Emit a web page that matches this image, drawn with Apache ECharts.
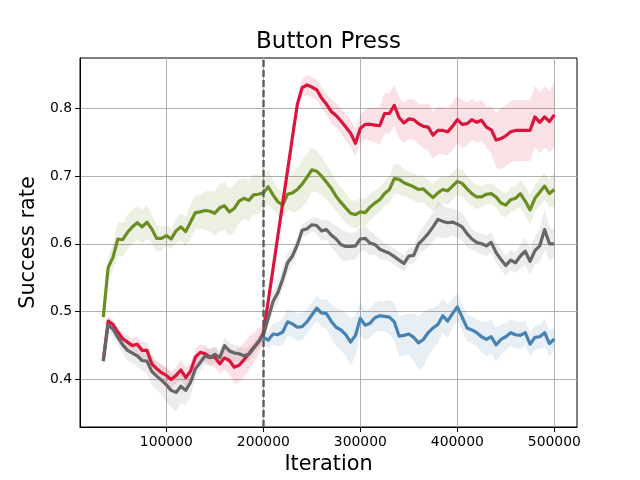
<!DOCTYPE html>
<html>
<head>
<meta charset="utf-8">
<title>Button Press</title>
<script src="https://cdn.jsdelivr.net/npm/echarts@6/dist/echarts.min.js"></script>
<style>
  html, body { margin: 0; padding: 0; background: #fff; }
  #main { width: 640px; height: 480px; }
</style>
</head>
<body>
<div id="main"></div>
<script>
// iterations: one point every 5000 steps, 35000 .. 500000
const ITER_START = 35000;
const ITER_STEP = 5000;
const ITER_COUNT = 94;
const iterations = [];
for (let i = 0; i < ITER_COUNT; i++) iterations.push(ITER_START + i * ITER_STEP);

// blue run only starts at the switch point
const switchIter = 200000;

const xTicks = [100000, 200000, 300000, 400000, 500000];
const yTicks = [0.4, 0.5, 0.6, 0.7, 0.8];

// mean success rate per run
const greenMean = [
  0.492, 0.565, 0.58, 0.607, 0.606, 0.617, 0.625, 0.631, 0.625, 0.632,
  0.622, 0.608, 0.608, 0.612, 0.607, 0.619, 0.625, 0.618, 0.632, 0.646,
  0.647, 0.649, 0.648, 0.645, 0.653, 0.656, 0.647, 0.652, 0.663, 0.667,
  0.664, 0.672, 0.673, 0.675, 0.684, 0.672, 0.662, 0.657, 0.673, 0.675,
  0.680, 0.688, 0.698, 0.709, 0.707, 0.700, 0.691, 0.682, 0.670, 0.661,
  0.653, 0.645, 0.643, 0.647, 0.646, 0.654, 0.660, 0.665, 0.674, 0.680,
  0.696, 0.695, 0.690, 0.687, 0.684, 0.680, 0.681, 0.674, 0.668, 0.675,
  0.680, 0.678, 0.685, 0.692, 0.689, 0.681, 0.674, 0.669, 0.669, 0.673,
  0.674, 0.669, 0.660, 0.657, 0.665, 0.667, 0.674, 0.663, 0.650, 0.667,
  0.676, 0.685, 0.674, 0.680
];
const redMean = [
  0.428, 0.486, 0.481, 0.470, 0.460, 0.455, 0.450, 0.452, 0.443, 0.443,
  0.423, 0.416, 0.410, 0.406, 0.400, 0.406, 0.414, 0.403, 0.412, 0.433,
  0.440, 0.438, 0.433, 0.433, 0.423, 0.432, 0.428, 0.418, 0.421, 0.429,
  0.438, 0.447, 0.455, 0.468, 0.515, 0.563, 0.612, 0.660, 0.708, 0.757,
  0.805, 0.830, 0.834, 0.831, 0.827, 0.815, 0.806, 0.795, 0.789, 0.781,
  0.772, 0.763, 0.748, 0.770, 0.776, 0.776, 0.775, 0.774, 0.792, 0.792,
  0.804, 0.786, 0.778, 0.784, 0.783, 0.777, 0.773, 0.772, 0.760, 0.767,
  0.767, 0.765, 0.773, 0.783, 0.776, 0.777, 0.783, 0.779, 0.782, 0.772,
  0.768, 0.753, 0.755, 0.759, 0.765, 0.767, 0.767, 0.767, 0.767, 0.787,
  0.779, 0.787, 0.780, 0.790
];
const grayMean = [
  0.427, 0.481, 0.474, 0.462, 0.451, 0.443, 0.439, 0.435, 0.428, 0.427,
  0.412, 0.405, 0.399, 0.392, 0.384, 0.381, 0.390, 0.384, 0.396, 0.416,
  0.425, 0.435, 0.432, 0.437, 0.432, 0.450, 0.442, 0.439, 0.438, 0.435,
  0.437, 0.446, 0.456, 0.465, 0.490, 0.515, 0.528, 0.548, 0.572, 0.582,
  0.598, 0.620, 0.622, 0.628, 0.627, 0.619, 0.621, 0.613, 0.607, 0.599,
  0.596, 0.596, 0.597, 0.607, 0.608, 0.601, 0.599, 0.592, 0.589, 0.586,
  0.581, 0.576, 0.571, 0.582, 0.583, 0.600, 0.607, 0.615, 0.625, 0.636,
  0.633, 0.631, 0.632, 0.629, 0.625, 0.615, 0.607, 0.602, 0.600, 0.597,
  0.602, 0.587, 0.577, 0.568, 0.576, 0.572, 0.582, 0.589, 0.574, 0.590,
  0.597, 0.621, 0.600, 0.600
];
// from 200000 on
const blueMean = [
  0.462, 0.458, 0.467, 0.466, 0.470, 0.485, 0.482, 0.477, 0.478, 0.485,
  0.495, 0.505, 0.498, 0.497, 0.486, 0.477, 0.473, 0.466, 0.455, 0.465,
  0.490, 0.480, 0.483, 0.491, 0.494, 0.493, 0.492, 0.485, 0.464, 0.465,
  0.467, 0.462, 0.454, 0.459, 0.469, 0.476, 0.481, 0.494, 0.486, 0.497,
  0.507, 0.492, 0.476, 0.473, 0.469, 0.463, 0.459, 0.463, 0.451, 0.459,
  0.463, 0.469, 0.466, 0.465, 0.469, 0.452, 0.462, 0.463, 0.469, 0.453,
  0.460
];

// half width of the shaded band (std) per run
const greenStd = [
  0.01, 0.015, 0.02, 0.025, 0.025, 0.025, 0.025, 0.025, 0.025, 0.025,
  0.02, 0.02, 0.018, 0.015, 0.015, 0.018, 0.02, 0.022, 0.025, 0.025,
  0.025, 0.028, 0.03, 0.032, 0.035, 0.035, 0.035, 0.035, 0.033, 0.03,
  0.03, 0.03, 0.028, 0.025, 0.025, 0.022, 0.02, 0.02, 0.022, 0.028,
  0.032, 0.035, 0.035, 0.033, 0.03, 0.028, 0.025, 0.025, 0.022, 0.022,
  0.022, 0.02, 0.02, 0.02, 0.02, 0.02, 0.018, 0.018, 0.018, 0.02,
  0.022, 0.022, 0.02, 0.02, 0.02, 0.02, 0.02, 0.02, 0.02, 0.02,
  0.02, 0.02, 0.02, 0.02, 0.02, 0.02, 0.018, 0.018, 0.015, 0.015,
  0.015, 0.015, 0.018, 0.018, 0.018, 0.018, 0.02, 0.022, 0.022, 0.02,
  0.02, 0.02, 0.02, 0.025
];
const redStd = [
  0.005, 0.008, 0.008, 0.008, 0.008, 0.01, 0.01, 0.012, 0.012, 0.012,
  0.012, 0.012, 0.012, 0.012, 0.012, 0.012, 0.015, 0.015, 0.012, 0.012,
  0.012, 0.012, 0.012, 0.015, 0.015, 0.018, 0.02, 0.025, 0.025, 0.025,
  0.025, 0.022, 0.02, 0.015, 0.01, 0.01, 0.01, 0.01, 0.01, 0.012,
  0.012, 0.012, 0.015, 0.015, 0.015, 0.015, 0.015, 0.018, 0.018, 0.018,
  0.02, 0.02, 0.02, 0.02, 0.022, 0.025, 0.025, 0.028, 0.03, 0.03,
  0.03, 0.03, 0.03, 0.03, 0.03, 0.03, 0.032, 0.035, 0.035, 0.035,
  0.035, 0.035, 0.035, 0.035, 0.035, 0.032, 0.03, 0.03, 0.03, 0.03,
  0.035, 0.04, 0.045, 0.045, 0.045, 0.045, 0.045, 0.045, 0.045, 0.045,
  0.045, 0.045, 0.045, 0.048
];
const grayStd = [
  0.008, 0.01, 0.012, 0.012, 0.012, 0.015, 0.015, 0.015, 0.015, 0.018,
  0.02, 0.02, 0.022, 0.025, 0.025, 0.028, 0.025, 0.022, 0.02, 0.015,
  0.012, 0.012, 0.012, 0.012, 0.012, 0.012, 0.012, 0.012, 0.012, 0.01,
  0.01, 0.01, 0.01, 0.01, 0.012, 0.015, 0.015, 0.015, 0.015, 0.012,
  0.01, 0.01, 0.01, 0.01, 0.012, 0.015, 0.015, 0.018, 0.02, 0.022,
  0.022, 0.02, 0.02, 0.018, 0.018, 0.018, 0.015, 0.015, 0.012, 0.012,
  0.012, 0.012, 0.012, 0.012, 0.012, 0.015, 0.018, 0.02, 0.022, 0.025,
  0.025, 0.022, 0.02, 0.02, 0.02, 0.02, 0.015, 0.015, 0.015, 0.015,
  0.015, 0.015, 0.015, 0.015, 0.015, 0.015, 0.018, 0.02, 0.02, 0.02,
  0.025, 0.03, 0.025, 0.02
];
const blueStd = [
  0.01, 0.012, 0.015, 0.018, 0.02, 0.02, 0.02, 0.02, 0.02, 0.018,
  0.018, 0.018, 0.02, 0.022, 0.025, 0.028, 0.03, 0.032, 0.035, 0.03,
  0.025, 0.022, 0.022, 0.022, 0.022, 0.022, 0.025, 0.028, 0.03, 0.03,
  0.03, 0.035, 0.04, 0.04, 0.035, 0.03, 0.028, 0.025, 0.025, 0.022,
  0.02, 0.02, 0.02, 0.02, 0.02, 0.022, 0.025, 0.025, 0.025, 0.022,
  0.02, 0.02, 0.02, 0.02, 0.018, 0.018, 0.018, 0.018, 0.02, 0.02,
  0.015
];

const blueIters = iterations.filter(function (x) { return x >= switchIter; });

/**
 * shaded mean +- std band, drawn as one polygon through the axis scales
 */
function band(xs, mean, std, fill) {
  return {
    type: 'custom',
    silent: true,
    z: 1,
    data: [[xs[0], mean[0]]],
    renderItem: function (params, api) {
      const upper = [];
      const lower = [];
      for (let i = 0; i < xs.length; i++) {
        upper.push(api.coord([xs[i], mean[i] + std[i]]));
        lower.unshift(api.coord([xs[i], mean[i] - std[i]]));
      }
      return {
        type: 'polygon',
        shape: { points: upper.concat(lower) },
        style: { fill: fill, stroke: null }
      };
    }
  };
}

function line(xs, mean, color) {
  return {
    type: 'line',
    z: 3,
    silent: true,
    showSymbol: false,
    data: xs.map(function (x, i) { return [x, mean[i]]; }),
    lineStyle: { color: color, width: 3.2, join: 'round' }
  };
}

const chart = echarts.init(document.getElementById('main'));
chart.setOption({
  animation: false,
  textStyle: { fontFamily: 'DejaVu Sans' },
  graphic: [
    {
      type: 'text',
      x: 328.5,
      y: 42,
      style: {
        text: 'Button Press',
        fontFamily: 'DejaVu Sans',
        fontSize: 23,
        fill: '#000',
        textAlign: 'center',
        textVerticalAlign: 'middle'
      }
    }
  ],
  grid: {
    left: 80,
    right: 63,
    top: 58,
    bottom: 53,
    show: true,
    borderColor: '#000',
    borderWidth: 1
  },
  xAxis: {
    type: 'value',
    min: 11000,
    max: 523400,
    name: 'Iteration',
    nameLocation: 'middle',
    nameGap: 25,
    nameTextStyle: { fontSize: 20.8, color: '#000' },
    axisLine: { show: true, lineStyle: { color: '#000', width: 1 } },
    axisTick: { show: true, length: 5, lineStyle: { color: '#000', width: 1 }, customValues: xTicks },
    axisLabel: {
      color: '#000',
      fontSize: 13.9,
      margin: 8,
      customValues: xTicks,
      formatter: function (v) { return String(v); }
    },
    splitLine: { show: true, lineStyle: { color: '#b0b0b0', width: 1 } }
  },
  yAxis: {
    type: 'value',
    min: 0.33,
    max: 0.8738,
    name: 'Success rate',
    nameLocation: 'middle',
    nameGap: 38,
    nameTextStyle: { fontSize: 20.8, color: '#000' },
    axisLine: { show: true, lineStyle: { color: '#000', width: 1 } },
    axisTick: { show: true, length: 5, lineStyle: { color: '#000', width: 1 }, customValues: yTicks },
    axisLabel: {
      color: '#000',
      fontSize: 13.9,
      margin: 8,
      customValues: yTicks,
      formatter: function (v) { return v.toFixed(1); }
    },
    splitLine: { show: true, lineStyle: { color: '#b0b0b0', width: 1 } }
  },
  series: [
    band(iterations, greenMean, greenStd, 'rgba(107,142,35,0.13)'),
    band(iterations, redMean, redStd, 'rgba(220,20,60,0.13)'),
    band(iterations, grayMean, grayStd, 'rgba(105,105,105,0.13)'),
    band(blueIters, blueMean, blueStd, 'rgba(70,130,180,0.13)'),
    line(iterations, greenMean, '#6b8e23'),
    line(iterations, redMean, '#dc143c'),
    line(iterations, grayMean, '#666666'),
    Object.assign(line(blueIters, blueMean, '#4682b4'), {
      markLine: {
        silent: true,
        symbol: 'none',
        label: { show: false },
        lineStyle: { color: '#555555', type: [7, 3], width: 2.5, opacity: 0.9 },
        data: [{ xAxis: switchIter }]
      }
    })
  ]
});
</script>
</body>
</html>
